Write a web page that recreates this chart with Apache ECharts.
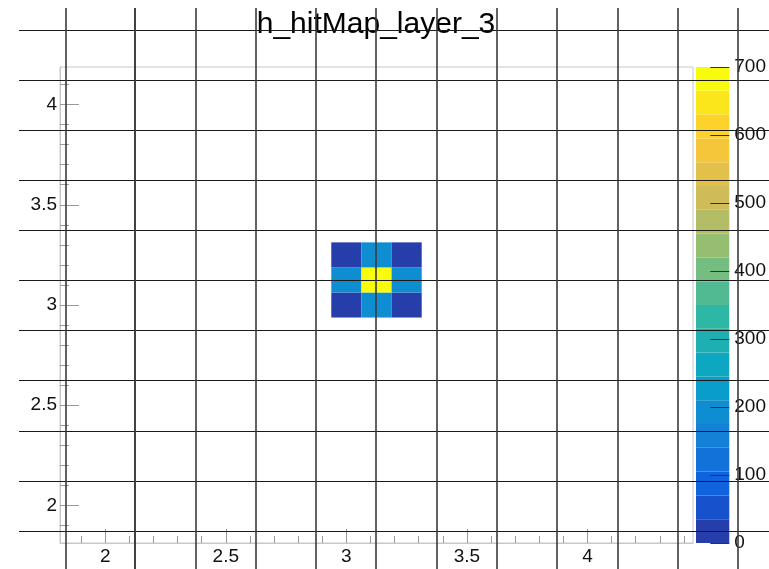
<!DOCTYPE html>
<html><head><meta charset="utf-8">
<script src="https://cdn.jsdelivr.net/npm/echarts@6/dist/echarts.min.js"></script>
<style>html,body{margin:0;padding:0;background:#fff}#c{width:769px;height:569px}</style>
</head><body><div id="c"></div>
<script>
// ---- data ----
const chartTitle = 'h_hitMap_layer_3';
const binWidth = 0.125;
const xRange = [1.8125, 4.4375];
const yRange = [1.8125, 4.1875];
const cellX = [3.0, 3.125, 3.25, 3.0, 3.125, 3.25, 3.0, 3.125, 3.25];
const cellY = [3.0, 3.0, 3.0, 3.125, 3.125, 3.125, 3.25, 3.25, 3.25];
const cellCount = [18, 190, 18, 190, 700, 190, 18, 190, 18];
const xMajorTicks = [2, 2.5, 3, 3.5, 4];
const yMajorTicks = [2, 2.5, 3, 3.5, 4];
const minorStep = 0.1;
const zRange = [0, 700];
const zTicks = [0, 100, 200, 300, 400, 500, 600, 700];
const nLevels = 20;
const palette = [
  '#263ea9', '#1752cc', '#1063dc', '#1272d9', '#1480d6',
  '#0e8ed1', '#099dcc', '#0ea7c2', '#1eafb3', '#2eb7a4',
  '#51ba92', '#75bd80', '#96be71', '#b3bd65', '#d0bb59',
  '#e3c04a', '#f5c63a', '#fdd22b', '#fbe61c', '#f9fb0e'
];

// ---- derived ----
function minorTicks(range) {
  const out = [];
  for (let v = Math.ceil(range[0] / minorStep) * minorStep; v <= range[1] + 1e-9; v += minorStep) {
    out.push(Math.round(v * 10) / 10);
  }
  return out;
}
const cells = cellX.map((x, i) => [x, cellY[i], cellCount[i]]);
const levelStep = (zRange[1] - zRange[0]) / nLevels;
const levels = [];
for (let i = 0; i < nLevels; i++) {
  levels.push(['z', zRange[0] + i * levelStep, zRange[0] + (i + 1) * levelStep, i]);
}
const pieces = levels.map((l, i) => i === nLevels - 1
  ? { gte: l[1], lte: l[2], color: palette[i] }
  : { gte: l[1], lt: l[2], color: palette[i] });

const FONT = 'Liberation Sans, Arial, Helvetica, sans-serif';
const LABEL_SIZE = 19;
const tickGray = '#9a9a9a';
const frameGray = '#c8c8c8';
const hidden = { axisLine: { show: false }, axisTick: { show: false }, axisLabel: { show: false }, splitLine: { show: false } };

const chart = echarts.init(document.getElementById('c'), null, { renderer: 'canvas' });
chart.setOption({
  animation: false,
  backgroundColor: '#fff',
  title: {
    text: chartTitle, left: 376, top: 10, padding: 0, textAlign: 'center',
    textStyle: { fontFamily: FONT, fontSize: 30, fontWeight: 'normal', color: '#000' }
  },
  grid: [
    { left: 60, top: 67, width: 633, height: 476, show: true, borderColor: frameGray, borderWidth: 1, backgroundColor: 'transparent' },
    { left: 696, top: 67, width: 35, height: 476 },
    { left: 19, top: 30, width: 750, height: 501 },
    { left: 66, top: 8, width: 69, height: 561 },
    { left: 135, top: 8, width: 603, height: 561 }
  ],
  xAxis: [
    { gridIndex: 0, type: 'value', min: xRange[0], max: xRange[1], position: 'bottom',
      axisLine: { show: true, lineStyle: { color: frameGray } },
      axisTick: { show: true, inside: true, length: 7, customValues: minorTicks(xRange), lineStyle: { color: tickGray } },
      axisLabel: { show: false }, splitLine: { show: false } },
    { gridIndex: 0, type: 'value', min: xRange[0], max: xRange[1], position: 'bottom',
      axisLine: { show: false },
      axisTick: { show: true, inside: true, length: 14, customValues: xMajorTicks, lineStyle: { color: tickGray } },
      axisLabel: { show: true, customValues: xMajorTicks, margin: 4, fontSize: LABEL_SIZE, fontFamily: FONT, color: '#111' },
      splitLine: { show: false } },
    Object.assign({ gridIndex: 1, type: 'category', data: ['z'], boundaryGap: true }, hidden),
    Object.assign({ gridIndex: 2, type: 'value', min: 0, max: 1 }, hidden),
    Object.assign({ gridIndex: 3, type: 'value', min: 0, max: 1, interval: 1, z: 10 }, hidden,
      { splitLine: { show: true, lineStyle: { color: '#3a3a3a', width: 1.6 } } }),
    Object.assign({ gridIndex: 4, type: 'value', min: 0, max: 10, interval: 1, z: 10 }, hidden,
      { splitLine: { show: true, lineStyle: { color: '#3a3a3a', width: 1.6 } } })
  ],
  yAxis: [
    { gridIndex: 0, type: 'value', min: yRange[0], max: yRange[1], position: 'left',
      axisLine: { show: true, lineStyle: { color: frameGray } },
      axisTick: { show: true, inside: true, length: 9, customValues: minorTicks(yRange), lineStyle: { color: tickGray } },
      axisLabel: { show: false }, splitLine: { show: false } },
    { gridIndex: 0, type: 'value', min: yRange[0], max: yRange[1], position: 'left',
      axisLine: { show: false },
      axisTick: { show: true, inside: true, length: 19, customValues: yMajorTicks, lineStyle: { color: tickGray } },
      axisLabel: { show: true, customValues: yMajorTicks, margin: 3, fontSize: LABEL_SIZE, fontFamily: FONT, color: '#111' },
      splitLine: { show: false } },
    { gridIndex: 1, type: 'value', min: zRange[0], max: zRange[1], interval: 100, position: 'right', z: 6,
      axisLine: { show: false },
      axisTick: { show: true, inside: true, length: 19, lineStyle: { color: '#333' } },
      axisLabel: { show: true, customValues: zTicks, margin: 5, fontSize: LABEL_SIZE, fontFamily: FONT, color: '#111', showMinLabel: true, showMaxLabel: true },
      splitLine: { show: false } },
    Object.assign({ gridIndex: 2, type: 'value', min: 0, max: 10, interval: 1, z: 10 }, hidden,
      { splitLine: { show: true, lineStyle: { color: '#1a1a1a', width: 1.2 } } }),
    Object.assign({ gridIndex: 3, type: 'value', min: 0, max: 1 }, hidden),
    Object.assign({ gridIndex: 4, type: 'value', min: 0, max: 1 }, hidden)
  ],
  visualMap: {
    type: 'piecewise', show: false, seriesIndex: 0, dimension: 2, pieces: pieces
  },
  series: [
    {
      type: 'custom', xAxisIndex: 0, yAxisIndex: 0, data: cells,
      encode: { x: 0, y: 1 },
      renderItem: function (params, api) {
        const x = api.value(0), y = api.value(1);
        const p0 = api.coord([x - binWidth / 2, y + binWidth / 2]);
        const p1 = api.coord([x + binWidth / 2, y - binWidth / 2]);
        return { type: 'rect', shape: { x: p0[0], y: p0[1], width: p1[0] - p0[0], height: p1[1] - p0[1] },
                 style: { fill: api.visual('color') } };
      }
    },
    {
      type: 'custom', xAxisIndex: 2, yAxisIndex: 2, data: levels,
      encode: { x: 0, y: [1, 2] },
      renderItem: function (params, api) {
        const lo = api.coord([api.value(0), api.value(1)]);
        const hi = api.coord([api.value(0), api.value(2)]);
        const w = api.size([1, 0])[0];
        return { type: 'rect', shape: { x: lo[0] - w / 2, y: hi[1], width: w, height: lo[1] - hi[1] },
                 style: { fill: palette[api.value(3)] } };
      }
    }
  ]
});
</script>
</body></html>
